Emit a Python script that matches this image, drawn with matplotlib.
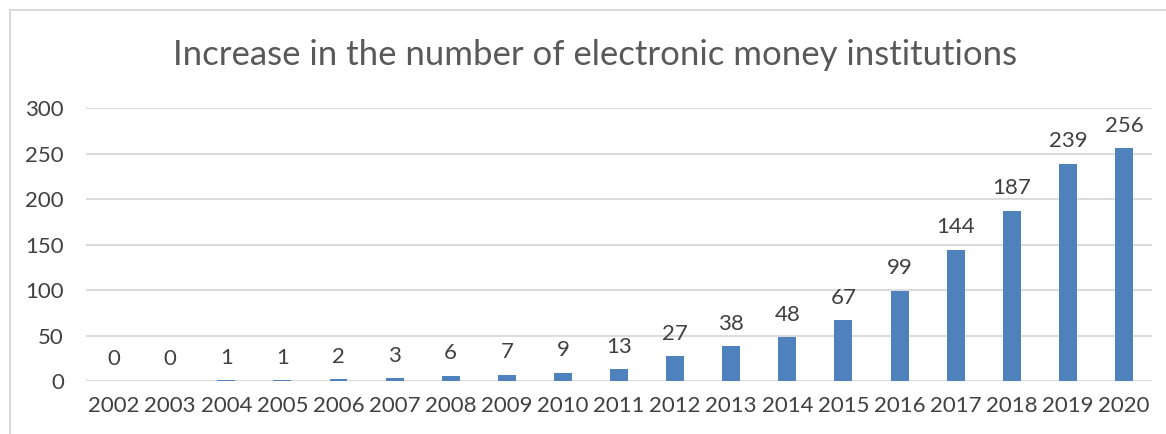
import matplotlib
matplotlib.use("Agg")
from matplotlib import pyplot as plt
from matplotlib.lines import Line2D

years = ['2002', '2003', '2004', '2005', '2006', '2007', '2008', '2009', '2010', '2011',
         '2012', '2013', '2014', '2015', '2016', '2017', '2018', '2019', '2020']
institutions = [0, 0, 1, 1, 2, 3, 6, 7, 9, 13, 27, 38, 48, 67, 99, 144, 187, 239, 256]

plt.rcParams['font.family'] = ['Lato', 'DejaVu Sans']
text_col = '#404040'

fig = plt.figure(figsize=(11.66, 4.34), dpi=100)
ax = fig.add_axes([0.0738, 0.1221, 0.9142, 0.629])

x = range(len(years))
ax.bar(x, institutions, width=0.32, color='#4F81BD', zorder=3)
for i, v in enumerate(institutions):
    ax.annotate(str(v), (i, v), xytext=(0, 9), textcoords='offset points',
                ha='center', va='bottom', fontsize=16, color=text_col)

ax.set_xlim(-0.5, len(years) - 0.5)
ax.set_ylim(0, 300)
ax.set_yticks(range(0, 301, 50))
ax.set_xticks(list(x))
ax.set_xticklabels(years)
ax.tick_params(axis='both', length=0, labelsize=16, colors=text_col)
ax.tick_params(axis='x', pad=11)
ax.tick_params(axis='y', pad=16)
ax.grid(axis='y', color='#D9D9D9', linewidth=1.3, zorder=0)
for s in ax.spines.values():
    s.set_visible(False)

fig.text(0.51, 0.873, 'Increase in the number of electronic money institutions',
         ha='center', va='center', fontsize=25, color='#595959')

# outer chart frame (left and top edges visible)
fig.add_artist(Line2D([10 / 1166, 10 / 1166], [0, 1 - 10 / 434], color='#D9D9D9', lw=1.5,
                      transform=fig.transFigure))
fig.add_artist(Line2D([10 / 1166, 1], [1 - 10 / 434, 1 - 10 / 434], color='#D9D9D9', lw=1.5,
                      transform=fig.transFigure))

plt.savefig('out.png', dpi=100)
